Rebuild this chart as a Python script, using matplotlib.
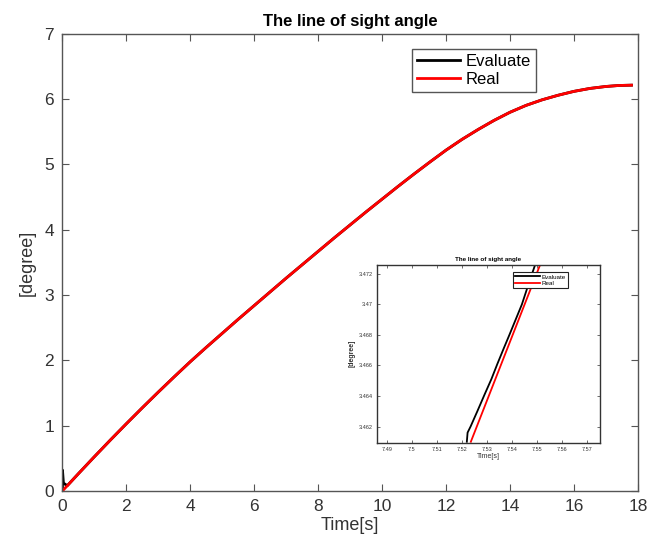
import matplotlib
matplotlib.use("Agg")
import matplotlib.pyplot as plt

# main curve (line of sight angle, degree)
time_real = [0, 0.5, 1, 1.5, 2, 2.5, 3, 3.5, 4, 4.5, 5, 5.5, 6, 6.5, 7, 7.5,
             8, 8.5, 9, 9.5, 10, 10.5, 11, 11.5, 12, 12.5, 13, 13.5, 14, 14.5,
             15, 15.5, 16, 16.5, 17, 17.4, 17.8]
angle_real = [0, 0.265, 0.525, 0.78, 1.03, 1.275, 1.515, 1.75, 1.98, 2.20,
              2.415, 2.63, 2.84, 3.05, 3.26, 3.465, 3.67, 3.875, 4.075, 4.275,
              4.47, 4.665, 4.855, 5.04, 5.22, 5.385, 5.535, 5.675, 5.80, 5.905,
              5.99, 6.06, 6.12, 6.165, 6.195, 6.21, 6.215]
time_eval = [0, 0, 0.03, 0.15] + time_real[1:]
angle_eval = [0, 0.32, 0.12, 0.08] + angle_real[1:]

# zoomed window near t = 7.52 s
zoom_t_eval = [7.5220, 7.5223, 7.5235, 7.5262, 7.5291, 7.5318, 7.5342, 7.5367,
               7.5390, 7.5415, 7.5440, 7.5466, 7.5493]
zoom_a_eval = [3.4610, 3.4616, 3.4620, 3.4630, 3.4641, 3.4651, 3.4661, 3.4671,
               3.4680, 3.4690, 3.4700, 3.4713, 3.4726]
zoom_t_real = [7.5236, 7.5513]
zoom_a_real = [3.4610, 3.4726]
zoom_xticks = [7.49, 7.50, 7.51, 7.52, 7.53, 7.54, 7.55, 7.56, 7.57]
zoom_xlabels = ["7.49", "7.5", "7.51", "7.52", "7.53", "7.54", "7.55", "7.56", "7.57"]
zoom_yticks = [3.462, 3.464, 3.466, 3.468, 3.470, 3.472]
zoom_ylabels = ["3.462", "3.464", "3.466", "3.468", "3.47", "3.472"]

plt.rcParams["font.family"] = ["Liberation Sans", "DejaVu Sans"]
frame = "#555555"
txt = "#333333"

fig = plt.figure(figsize=(6.61, 5.47), dpi=100)
ax = fig.add_axes([0.0945, 0.1025, 0.8705, 0.8355])

ax.plot(time_eval, angle_eval, color="black", linewidth=2.0, label="Evaluate")
ax.plot(time_real, angle_real, color="#ff0000", linewidth=2.0, label="Real")
ax.set_xlim(0, 18)
ax.set_ylim(0, 7)
ax.set_xticks(range(0, 19, 2))
ax.set_yticks(range(0, 8))
ax.tick_params(direction="in", top=True, right=True, length=5, width=0.8,
               colors=frame, labelcolor=txt, labelsize=12.5, pad=6)
for s in ax.spines.values():
    s.set_color(frame)
    s.set_linewidth(1.0)
ax.set_title("The line of sight angle", fontsize=12, fontweight="bold", pad=6)
ax.set_xlabel("Time[s]", fontsize=13, color=txt, labelpad=2)
ax.set_ylabel("[degree]", fontsize=13, color=txt, labelpad=6)
leg = ax.legend(loc="upper left", bbox_to_anchor=(0.593, 0.985), fontsize=12,
                handlelength=2.6, handletextpad=0.3, borderpad=0.3,
                labelspacing=0.15, fancybox=False, framealpha=1)
leg.get_frame().set_edgecolor(frame)
leg.get_frame().set_linewidth(1.0)

# inset
ins = fig.add_axes([0.570, 0.191, 0.338, 0.325])
ins.plot(zoom_t_eval, zoom_a_eval, color="black", linewidth=1.3, label="Evaluate")
ins.plot(zoom_t_real, zoom_a_real, color="#ff0000", linewidth=1.3, label="Real")
ins.set_xlim(7.486, 7.5753)
ins.set_ylim(3.46095, 3.4726)
ins.set_xticks(zoom_xticks)
ins.set_xticklabels(zoom_xlabels)
ins.set_yticks(zoom_yticks)
ins.set_yticklabels(zoom_ylabels)
ins.tick_params(direction="in", top=True, right=True, length=2, width=0.6,
                colors=frame, labelcolor=txt, labelsize=4, pad=3)
for s in ins.spines.values():
    s.set_color("#333333")
    s.set_linewidth(1.0)
ins.set_title("The line of sight angle", fontsize=4.5, fontweight="bold", pad=3)
ins.set_xlabel("Time[s]", fontsize=5, color=txt, labelpad=1)
ins.set_ylabel("[degree]", fontsize=5, color=txt, fontweight="bold", labelpad=2)
leg2 = ins.legend(loc="upper left", bbox_to_anchor=(0.595, 0.975), fontsize=4.5,
                  handlelength=4, handletextpad=0.3, borderpad=0.3,
                  labelspacing=0.2, fancybox=False, framealpha=1)
leg2.get_frame().set_edgecolor("#222222")
leg2.get_frame().set_linewidth(0.8)

fig.savefig("out.png", dpi=100)
